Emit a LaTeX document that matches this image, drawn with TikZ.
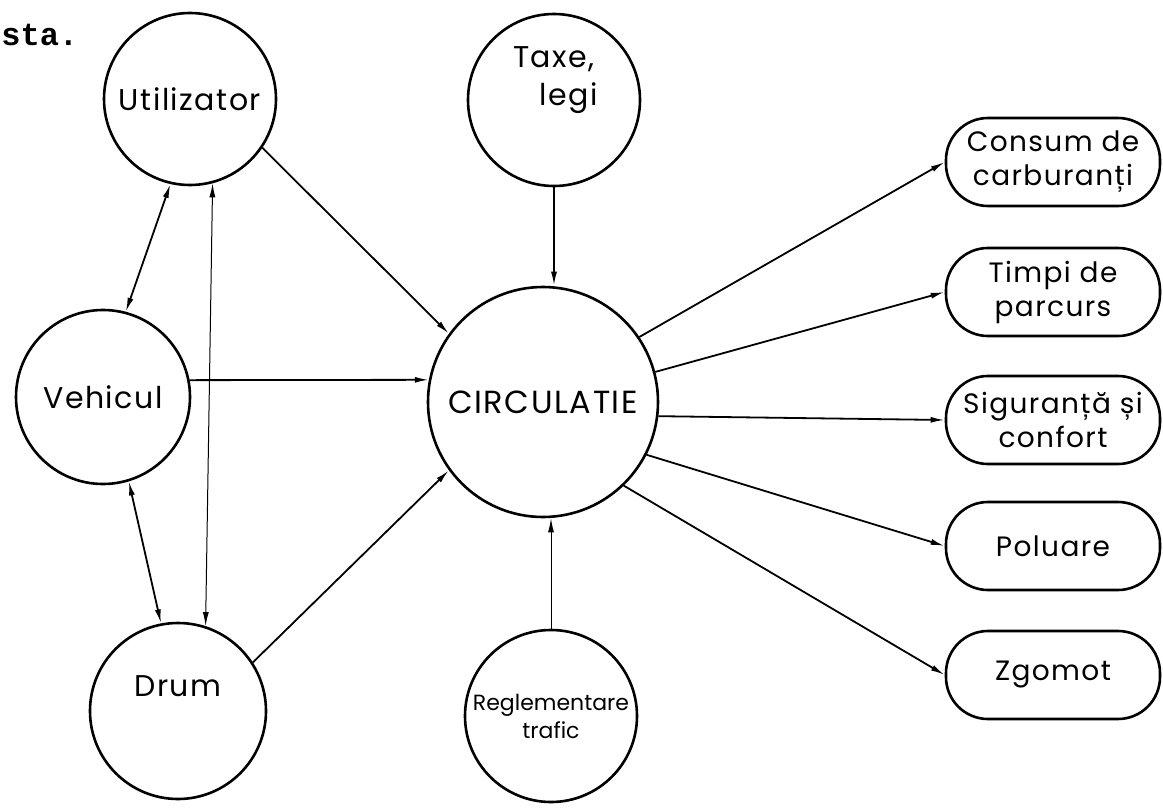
\documentclass[tikz,border=0pt]{standalone}
\usepackage{fontspec}
\setmainfont{Poppins}[LetterSpace=5]
\setmonofont{Liberation Mono}
\usepackage{tikz}
\usetikzlibrary{arrows.meta}
\usetikzlibrary{positioning}
\tikzset{
    ring/.style={
           circle,
           draw=black, line width=1.3pt,
           inner sep=0pt,
           minimum size=86pt,
           align=center,
           font=\fontsize{15}{19}\selectfont,
           },
    pill/.style={
           rectangle,
           rounded corners=21pt,
           draw=black, line width=1.3pt,
           minimum width=107pt,
           minimum height=44pt,
           inner sep=2pt,
           align=center,
           font=\fontsize{14}{17}\selectfont,
           },
    pil/.style={
           ->,
           line width=0.9pt,},
    bipil/.style={
           <->,
           line width=0.9pt,}
}
\begin{document}
\begin{tikzpicture}[x=0.5pt,y=-0.5pt,>={Latex[length=7pt,width=3pt]}]
\useasboundingbox (0,0) rectangle (1163,809);
% Fragment of the text above the figure (HEAD)
\node[anchor=base west, inner sep=0pt,
font=\ttfamily\bfseries\fontsize{16}{16}\selectfont] (HEAD) at (1,45) {sta.};
% Position of the central circle (CIRC)
\node[ring, minimum size=115pt,
font=\fontsize{16}{19}\selectfont] (CIRC) at (543,402) {CIRCULATIE};
% Position of Taxe, legi (TAXE)
\node[ring,
above of = CIRC,
node distance = 151pt,
xshift = 5.5pt] (TAXE)
{Taxe,\\\hspace*{1em}legi\\[5pt]};
% Position of Reglementare trafic (REGL)
\node[ring,
below of = CIRC,
node distance = 157pt,
xshift = 4pt,
font=\fontsize{11}{14}\selectfont\addfontfeature{LetterSpace=0}] (REGL)
{Reglementare\\trafic};
% Position of Utilizator (UTIL)
\node[ring] (UTIL) at (190,99) {Utilizator};
% Position of Vehicul (VEH)
\node[ring,
minimum size = 87pt,
below of = UTIL,
node distance = 149pt,
xshift = -43.5pt] (VEH)
{Vehicul};
% Position of Drum (DRUM)
\node[ring,
minimum size = 88pt,
below of = VEH,
node distance = 157pt,
xshift = 37.5pt] (DRUM)
{Drum\\[6pt]};
% Position of the effects on the right
\node[pill] (CONS) at (1053,162) {Consum de\\carburanți};
\node[pill, below of = CONS, node distance = 65pt] (TIMP) {Timpi de\\parcurs};
\node[pill, below of = TIMP, node distance = 64pt] (SIG) {Siguranță și\\confort};
\node[pill, below of = SIG, node distance = 63pt] (POL) {Poluare};
\node[pill, below of = POL, node distance = 64.5pt] (ZGO) {Zgomot};
% Draw lines on graph
\draw[bipil] (UTIL.-103) -- (VEH.75.5);
\draw[bipil] (VEH.-73) -- (DRUM.101.4);
\draw[bipil, line width=0.5pt] (UTIL.-75) -- (DRUM.72);
\draw[pil] (UTIL.-34) -- (CIRC.144);
\draw[pil] (VEH.11) -- (CIRC.169);
\draw[pil] (DRUM.33.5) -- (CIRC.-144);
\draw[pil] (TAXE.south) -- (TAXE.south |- CIRC.north);
\draw[pil, line width=0.5pt] (REGL.north) -- (REGL.north |- CIRC.south);
\draw[pil] (CIRC.34.4) -- (CONS.west);
\draw[pil] (CIRC.15) -- (TIMP.west);
\draw[pil] (CIRC.-7.4) -- (SIG.west);
\draw[pil] (CIRC.-27.6) -- (POL.west);
\draw[pil] (CIRC.-46) -- (ZGO.west);
\end{tikzpicture}
\end{document}
